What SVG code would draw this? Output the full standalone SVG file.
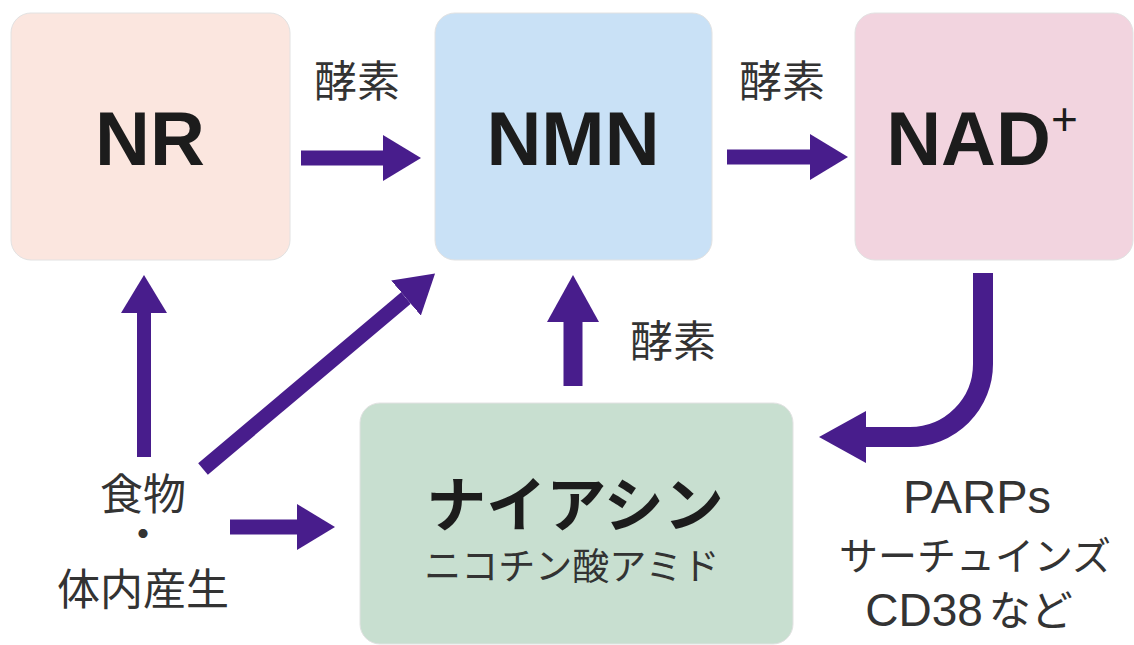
<svg xmlns="http://www.w3.org/2000/svg" width="1134" height="645" viewBox="0 0 1134 645">
<defs>
<marker id="ah" markerUnits="userSpaceOnUse" markerWidth="38" markerHeight="46" refX="0" refY="23" orient="auto"><path d="M0,0 L38,23 L0,46 z" fill="#481d8c"/></marker>
<marker id="ahL" markerUnits="userSpaceOnUse" markerWidth="47" markerHeight="52" refX="0" refY="26" orient="auto"><path d="M0,0 L47,26 L0,52 z" fill="#481d8c"/></marker>
</defs>
<style>
.box{stroke:#e2e2e2;stroke-width:1}
.big{font-family:"Liberation Sans","Noto Sans",sans-serif;font-weight:bold;font-size:76px;fill:#1c1c1c;text-anchor:middle}
.lbl{font-family:"Noto Sans CJK JP","Liberation Sans",sans-serif;font-size:43px;fill:#333;text-anchor:middle}
.sm{font-family:"Liberation Sans","Noto Sans CJK JP",sans-serif;font-size:47px;fill:#333;text-anchor:middle}
.c{fill:none;stroke:#481d8c}
</style>
<rect width="1134" height="645" fill="#fff"/>
<g id="nr"><rect class="box" x="11" y="13" width="279" height="247" rx="20" fill="#fbe6df"/><text class="big" x="150" y="165">NR</text></g>
<g id="nmn"><rect class="box" x="435" y="13" width="277" height="247" rx="20" fill="#c9e1f6"/><text class="big" x="573" y="165">NMN</text></g>
<g id="nad"><rect class="box" x="855" y="13" width="278" height="247" rx="20" fill="#f2d4df"/><text class="big" x="982" y="165">NAD<tspan font-weight="normal" font-size="46" dy="-30">+</tspan></text></g>
<g id="niacin"><rect class="box" x="360" y="403" width="433" height="241" rx="20" fill="#c8dfd0"/>
<text x="575" y="527" font-family="'Noto Sans CJK JP',sans-serif" font-weight="bold" font-size="60" fill="#1c1c1c" text-anchor="middle">ナイアシン</text>
<text x="572" y="580" font-family="'Noto Sans CJK JP',sans-serif" font-size="37" fill="#333" text-anchor="middle">ニコチン酸アミド</text></g>
<g id="food"><text class="lbl" x="143" y="510">食物</text><text class="lbl" x="143" y="550" font-size="28">・</text><text class="lbl" x="143" y="605">体内産生</text></g>
<g id="consumers"><text class="sm" x="977" y="513">PARPs</text>
<text x="975" y="570" font-family="'Noto Sans CJK JP',sans-serif" font-size="39" fill="#333" text-anchor="middle">サーチュインズ</text>
<text x="969" y="626" font-family="'Liberation Sans','Noto Sans CJK JP',sans-serif" font-size="46" fill="#333" text-anchor="middle">CD38<tspan font-family="'Noto Sans CJK JP',sans-serif" font-size="42" dx="6">など</tspan></text></g>
<g id="labels"><text class="lbl" x="357" y="97">酵素</text><text class="lbl" x="782" y="97">酵素</text><text class="lbl" x="673" y="357">酵素</text></g>
<g id="connectors">
<line class="c" x1="301" y1="158" x2="383" y2="158" stroke-width="15" marker-end="url(#ah)"/>
<line class="c" x1="727" y1="157" x2="810" y2="157" stroke-width="15" marker-end="url(#ah)"/>
<line class="c" x1="144" y1="457" x2="144" y2="313" stroke-width="14" marker-end="url(#ah)"/>
<line class="c" x1="203" y1="469" x2="406" y2="298" stroke-width="15" marker-end="url(#ah)"/>
<line class="c" x1="230" y1="527" x2="297" y2="527" stroke-width="15" marker-end="url(#ah)"/>
<line class="c" x1="573" y1="386" x2="573" y2="322" stroke-width="19" marker-end="url(#ahL)"/>
<path class="c" d="M983,273 V364 A73,73 0 0 1 910,437 H866" stroke-width="20" marker-end="url(#ahL)"/>
</g>
</svg>
